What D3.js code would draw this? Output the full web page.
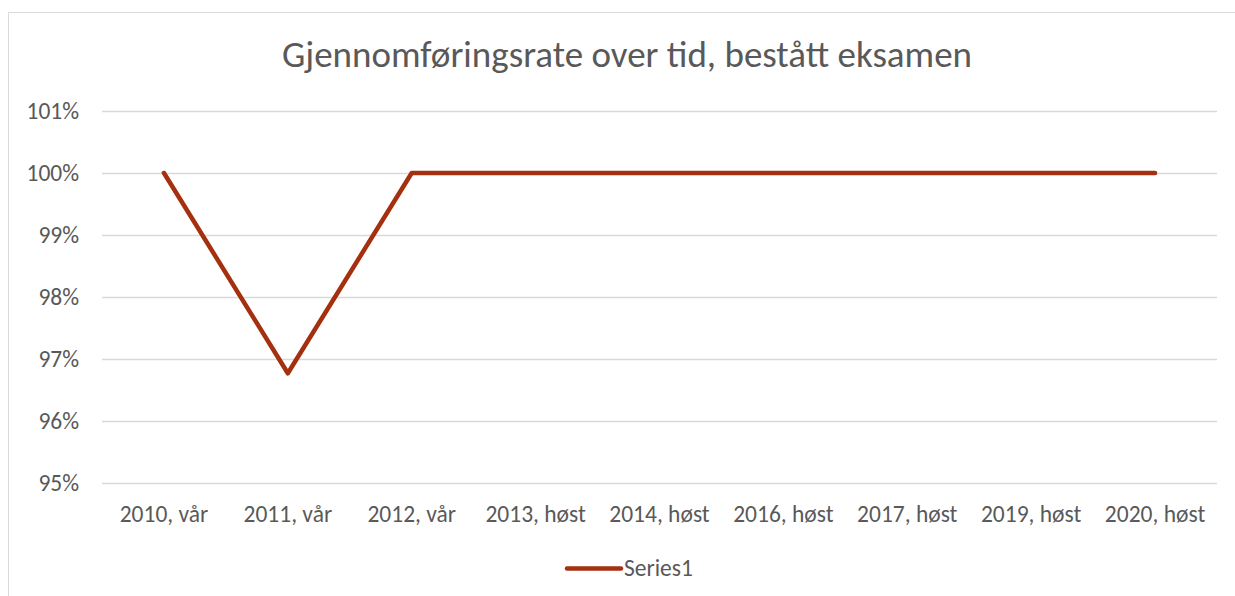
<!DOCTYPE html>
<html>
<head>
<meta charset="utf-8">
<script src="https://cdn.jsdelivr.net/npm/d3@7"></script>
<style>
body{margin:0;background:#fff}
text{font-family:Carlito,Calibri,Lato,"Open Sans",sans-serif}
</style>
</head>
<body>
<svg id="chart" width="1235" height="596"></svg>
<script>
var categories = ['2010, vår','2011, vår','2012, vår','2013, høst','2014, høst','2016, høst','2017, høst','2019, høst','2020, høst']
var values = [1.00, 0.9677, 1.00, 1.00, 1.00, 1.00, 1.00, 1.00, 1.00]
var yTicks = [0.95, 0.96, 0.97, 0.98, 0.99, 1.00, 1.01]
var seriesName = 'Series1'
var title = 'Gjennomføringsrate over tid, bestått eksamen'

var svg = d3.select('#chart')
var grey = '#595959'
var red = '#A5300F'

// chart border (right side cut off in the reference)
svg.append('path').attr('d','M8.5,596 V12.5 H1235')
	.style('fill','none').style('stroke','#d9d9d9').style('stroke-width',1)

var x = d3.scaleBand().domain(categories).range([102,1217])
var y = d3.scaleLinear().domain([0.95,1.01]).range([483,111])

svg.append('text').text(title)
	.attr('x',627).attr('y',67).attr('text-anchor','middle')
	.style('font-size','37px').style('fill',grey)

var grid = svg.append('g').attr('id','grid')
yTicks.forEach(function(t){
	grid.append('line')
		.attr('x1',x.range()[0]).attr('x2',x.range()[1])
		.attr('y1',Math.round(y(t))+0.5).attr('y2',Math.round(y(t))+0.5)
		.style('stroke','#d9d9d9').style('stroke-width',1.3)
	grid.append('text').text(d3.format('.0%')(t))
		.attr('x',79).attr('y',y(t)+7.5).attr('text-anchor','end')
		.style('font-size','23.5px').style('fill',grey)
})

var xl = svg.append('g').attr('id','xlabels')
categories.forEach(function(c){
	xl.append('text').text(c)
		.attr('x',x(c)+x.bandwidth()/2).attr('y',522).attr('text-anchor','middle')
		.style('font-size','23.5px').style('fill',grey)
})

svg.append('path').datum(values)
	.attr('d',d3.line()
		.x(function(d,i){return x(categories[i])+x.bandwidth()/2})
		.y(function(d){return y(d)}))
	.style('fill','none').style('stroke',red).style('stroke-width',4.5)
	.style('stroke-linejoin','round').style('stroke-linecap','round')

var leg = svg.append('g').attr('id','legend')
leg.append('line').attr('x1',567).attr('x2',621).attr('y1',568.5).attr('y2',568.5)
	.style('stroke',red).style('stroke-width',4.5).style('stroke-linecap','round')
leg.append('text').text(seriesName).attr('x',624).attr('y',576)
	.style('font-size','23.5px').style('fill',grey)
</script>
</body>
</html>
